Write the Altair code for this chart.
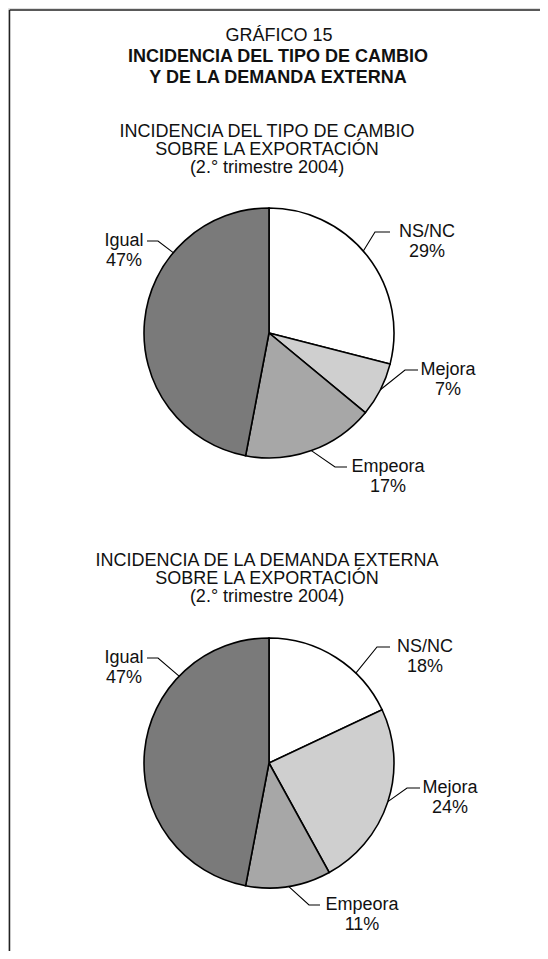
import math
import altair as alt
import pandas as pd

# ---- data ----
categories = ["NS/NC", "Mejora", "Empeora", "Igual"]
tipo_cambio = [29, 7, 17, 47]
demanda_externa = [18, 24, 11, 47]

title_lines = ["GRÁFICO 15", "INCIDENCIA DEL TIPO DE CAMBIO", "Y DE LA DEMANDA EXTERNA"]
sub1_lines = ["INCIDENCIA DEL TIPO DE CAMBIO", "SOBRE LA EXPORTACIÓN", "(2.° trimestre 2004)"]
sub2_lines = ["INCIDENCIA DE LA DEMANDA EXTERNA", "SOBRE LA EXPORTACIÓN", "(2.° trimestre 2004)"]

# ---- style / layout ----
colors = ["#ffffff", "#cfcfcf", "#a7a7a7", "#7a7a7a"]
FONT = "Liberation Sans"
FS = 18
W, H = 532, 943
OFF = 8  # page margin
R = 125
CX = 269 - OFF
CY1 = 333 - OFF
CY2 = 763 - OFF

# per label: leader angle override (deg) or None for mid-angle, elbow (x,y), end x of horizontal, label center x
layout1 = {
    "NS/NC": (49, (375, 232), 390, 427),
    "Mejora": (None, (405, 370), 418, 448),
    "Empeora": (None, (335, 467), 347, 388),
    "Igual": (310, (158, 241), 147, 124),
}
layout2 = {
    "NS/NC": (44, (377, 647), 390, 425),
    "Mejora": (None, (407, 788), 420, 450),
    "Empeora": (None, (309, 905), 320, 362),
    "Igual": (314, (158, 658), 147, 124),
}


def pie_frames(values, cy, layout, tag):
    df = pd.DataFrame({"cat": categories, "value": values, "idx": range(len(values))})
    total = sum(values)
    cum = 0
    pts, labs = [], []
    for c, v in zip(categories, values):
        mid = (cum + v / 2) / total * 360
        cum += v
        ang, (ex, ey), hx, lcx = layout[c]
        a = math.radians(mid if ang is None else ang)
        sx = CX + R * math.sin(a)
        sy = cy - R * math.cos(a)
        pid = f"{tag}-{c}"
        pts += [
            {"id": pid, "k": 0, "x": sx, "y": sy},
            {"id": pid, "k": 1, "x": ex - OFF, "y": ey - OFF},
            {"id": pid, "k": 2, "x": hx - OFF, "y": ey - OFF},
        ]
        labs.append({"x": lcx - OFF, "y": ey - OFF, "text": c})
        labs.append({"x": lcx - OFF, "y": ey - OFF + 20, "text": f"{v}%"})
    return df, pd.DataFrame(pts), pd.DataFrame(labs)


def pie_layers(values, cy, layout, tag):
    df, pts, labs = pie_frames(values, cy, layout, tag)
    arc = alt.Chart(df).mark_arc(radius=R, stroke="black", strokeWidth=1.6).encode(
        theta=alt.Theta("value:Q", stack=True),
        order=alt.Order("idx:Q", sort="ascending"),
        color=alt.Color("cat:N", scale=alt.Scale(domain=categories, range=colors), legend=None),
        x=alt.value(CX),
        y=alt.value(cy),
    )
    lines = alt.Chart(pts).mark_line(color="black", strokeWidth=1.1).encode(
        x=alt.X("x:Q", scale=None, axis=None),
        y=alt.Y("y:Q", scale=None, axis=None),
        detail="id:N",
        order="k:Q",
    )
    text = alt.Chart(labs).mark_text(font=FONT, fontSize=FS, color="#111", baseline="middle", align="center").encode(
        x=alt.X("x:Q", scale=None, axis=None),
        y=alt.Y("y:Q", scale=None, axis=None),
        text="text:N",
    )
    return [arc, lines, text]


def text_block(lines, cx, ys, bold=False):
    df = pd.DataFrame({"text": lines, "x": [cx - OFF] * len(lines), "y": [y - OFF for y in ys]})
    return alt.Chart(df).mark_text(
        font=FONT, fontSize=FS, color="#111", baseline="middle", align="center",
        fontWeight="bold" if bold else "normal",
    ).encode(
        x=alt.X("x:Q", scale=None, axis=None),
        y=alt.Y("y:Q", scale=None, axis=None),
        text="text:N",
    )


frame_left = alt.Chart(pd.DataFrame({"a": [0]})).mark_rule(color="#222", strokeWidth=1.5).encode(
    x=alt.value(1.5), y=alt.value(2), y2=alt.value(H)
)
frame_top = alt.Chart(pd.DataFrame({"a": [0]})).mark_rule(color="#222", strokeWidth=1.5).encode(
    x=alt.value(1.5), x2=alt.value(W), y=alt.value(2)
)

layers = [frame_left, frame_top]
layers.append(text_block(title_lines[:1], 279, [36]))
layers.append(text_block(title_lines[1:], 278, [57, 78], bold=True))
layers.append(text_block(sub1_lines, 267, [132, 150, 168]))
layers.append(text_block(sub2_lines, 267, [561, 579, 597]))
layers += pie_layers(tipo_cambio, CY1, layout1, "a")
layers += pie_layers(demanda_externa, CY2, layout2, "b")

chart = alt.layer(*layers).properties(
    width=W, height=H, padding=0, autosize="none"
).configure_view(stroke=None).configure(background="white")

chart.save("out.html", embed_options={"renderer": "svg", "actions": False})
